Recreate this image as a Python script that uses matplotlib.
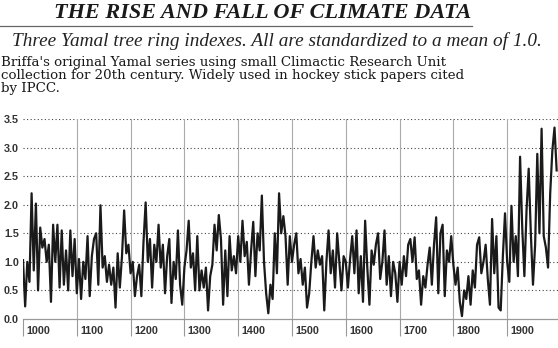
import numpy as np
import matplotlib
matplotlib.use('Agg')
import matplotlib.pyplot as plt
import matplotlib.transforms as transforms
from matplotlib.lines import Line2D

# Briffa Yamal index, every 4 years (1000-1992)
years = np.arange(1000, 1993, 4)
yamal = [
    # 1000s
    1.03, 0.22, 1.0, 0.65, 2.2, 0.85, 2.02, 0.5, 1.6, 1.25, 1.4, 1.0, 1.3,
    0.3, 1.65, 1.0, 1.65, 0.55, 1.55, 0.6, 1.2, 0.5, 1.55, 0.75, 1.4,
    # 1100s
    0.45, 1.05, 0.35, 1.0, 0.7, 1.45, 0.4, 1.1, 1.4, 1.5, 0.6, 1.99, 0.9,
    1.1, 0.65, 0.95, 0.6, 0.9, 0.2, 1.15, 0.55, 1.1, 1.9, 1.15, 1.3,
    # 1200s
    0.8, 1.0, 0.4, 0.75, 0.95, 0.4, 1.35, 2.04, 1.0, 1.4, 0.55, 1.3, 1.0,
    1.65, 0.9, 1.3, 0.45, 1.1, 1.4, 0.28, 1.0, 0.7, 1.55, 0.6, 0.25,
    # 1300s
    0.9, 1.2, 1.72, 0.9, 1.15, 0.5, 1.45, 0.5, 0.85, 0.55, 0.9, 0.15, 0.75,
    0.95, 1.65, 1.2, 1.82, 1.4, 0.25, 1.2, 0.4, 1.45, 0.85, 1.1, 0.8,
    # 1400s
    1.45, 1.0, 1.72, 1.1, 1.35, 0.6, 1.2, 1.7, 0.75, 1.5, 1.2, 2.16, 1.0,
    0.45, 0.1, 0.6, 0.35, 1.5, 0.8, 2.2, 1.5, 1.8, 1.45, 0.6, 1.45,
    # 1500s
    1.0, 1.3, 1.5, 0.8, 1.05, 0.6, 0.9, 0.2, 0.45, 1.0, 1.45, 0.9, 1.2,
    0.95, 1.1, 0.15, 1.0, 1.55, 0.8, 1.2, 0.55, 1.5, 1.0, 0.5, 1.1,
    # 1600s
    1.0, 0.55, 1.05, 1.45, 0.8, 1.55, 0.45, 1.1, 0.3, 1.72, 0.9, 0.25, 1.2,
    0.95, 1.3, 1.5, 0.7, 1.0, 1.55, 0.6, 1.1, 0.4, 1.0, 0.8, 0.3,
    # 1700s
    1.0, 0.6, 1.1, 0.75, 1.3, 1.4, 1.0, 1.43, 0.7, 0.85, 0.25, 0.75, 0.55,
    0.95, 1.25, 0.6, 1.3, 1.78, 0.45, 1.5, 1.65, 0.4, 1.2, 1.0, 1.45,
    # 1800s
    0.95, 0.6, 0.9, 0.3, 0.05, 0.5, 0.35, 0.75, 0.25, 0.85, 0.55, 1.3, 1.43,
    0.8, 1.0, 1.3, 0.7, 0.25, 1.75, 0.8, 1.45, 0.2, 0.15, 1.1, 1.85,
    # 1900s
    1.0, 0.65, 1.98, 1.0, 1.45, 0.75, 2.84, 1.6, 0.75, 1.9, 2.63, 1.5,
    0.6, 1.3, 2.89, 1.5, 3.33, 1.45, 1.25, 0.9, 2.2, 2.95, 3.35, 2.6,
]

tick_years = [1000, 1100, 1200, 1300, 1400, 1500, 1600, 1700, 1800, 1900]
grid_years = tick_years[1:]
y_ticks = [0.0, 0.5, 1.0, 1.5, 2.0, 2.5, 3.0, 3.5]

title = 'THE RISE AND FALL OF CLIMATE DATA'
subtitle = 'Three Yamal tree ring indexes. All are standardized to a mean of 1.0.'
note = ("Briffa's original Yamal series using small Climactic Research Unit\n"
        "collection for 20th century. Widely used in hockey stick papers cited\n"
        "by IPCC.")

W, H = 558, 348
fig = plt.figure(figsize=(W / 100, H / 100), dpi=100)
fig.patch.set_facecolor('white')

# header text
fig.text(263 / W, 1 - 13 / H, title, ha='center', va='center',
         family='Liberation Serif', style='italic', weight='bold',
         fontsize=16, color='#1a1a1a')
fig.add_artist(Line2D([0, 472 / W], [1 - 25.5 / H, 1 - 25.5 / H],
                      color='#666666', lw=0.9))
fig.text(277 / W, 1 - 41 / H, subtitle, ha='center', va='center',
         family='Liberation Serif', style='italic', fontsize=13.9,
         color='#222222')
fig.text(1 / W, 1 - 56 / H, note, ha='left', va='top',
         family='DejaVu Serif', fontsize=9.6, color='#1a1a1a',
         linespacing=1.0)

# plot area
ax = fig.add_axes([23 / W, 29 / H, 535 / W, 200 / H])
ax.set_xlim(1000, 1994.5)
ax.set_ylim(0, 3.5)

for yv in y_ticks[1:]:
    ax.axhline(yv, color='#444444', lw=0.8, ls=(0, (1, 2.2)), zorder=1)
for xv in grid_years:
    ax.axvline(xv, color='#aaaaaa', lw=0.8, zorder=1)

ax.plot(years, yamal, color='#1a1a1a', lw=1.6, zorder=3)

for s in ['left', 'right', 'top']:
    ax.spines[s].set_visible(False)
ax.spines['bottom'].set_color('#999999')
ax.spines['bottom'].set_linewidth(0.9)

ax.set_yticks(y_ticks)
ax.set_yticklabels(['%.1f' % v for v in y_ticks])
ax.tick_params(axis='y', length=0, pad=3, labelsize=7.8, labelcolor='#333333')

ax.set_xticks(tick_years)
ax.set_xticklabels([str(v) for v in tick_years], ha='left')
ax.tick_params(axis='x', direction='out', length=12, width=0.8,
               color='#999999', pad=-7, labelsize=7.8, labelcolor='#333333')
offset = transforms.ScaledTranslation(2.5 / 72, 0, fig.dpi_scale_trans)
for lab in ax.get_xticklabels() + ax.get_yticklabels():
    lab.set_family('Liberation Sans')
    lab.set_weight('bold')
for lab in ax.get_xticklabels():
    lab.set_transform(lab.get_transform() + offset)

fig.savefig('out.png', dpi=100)
